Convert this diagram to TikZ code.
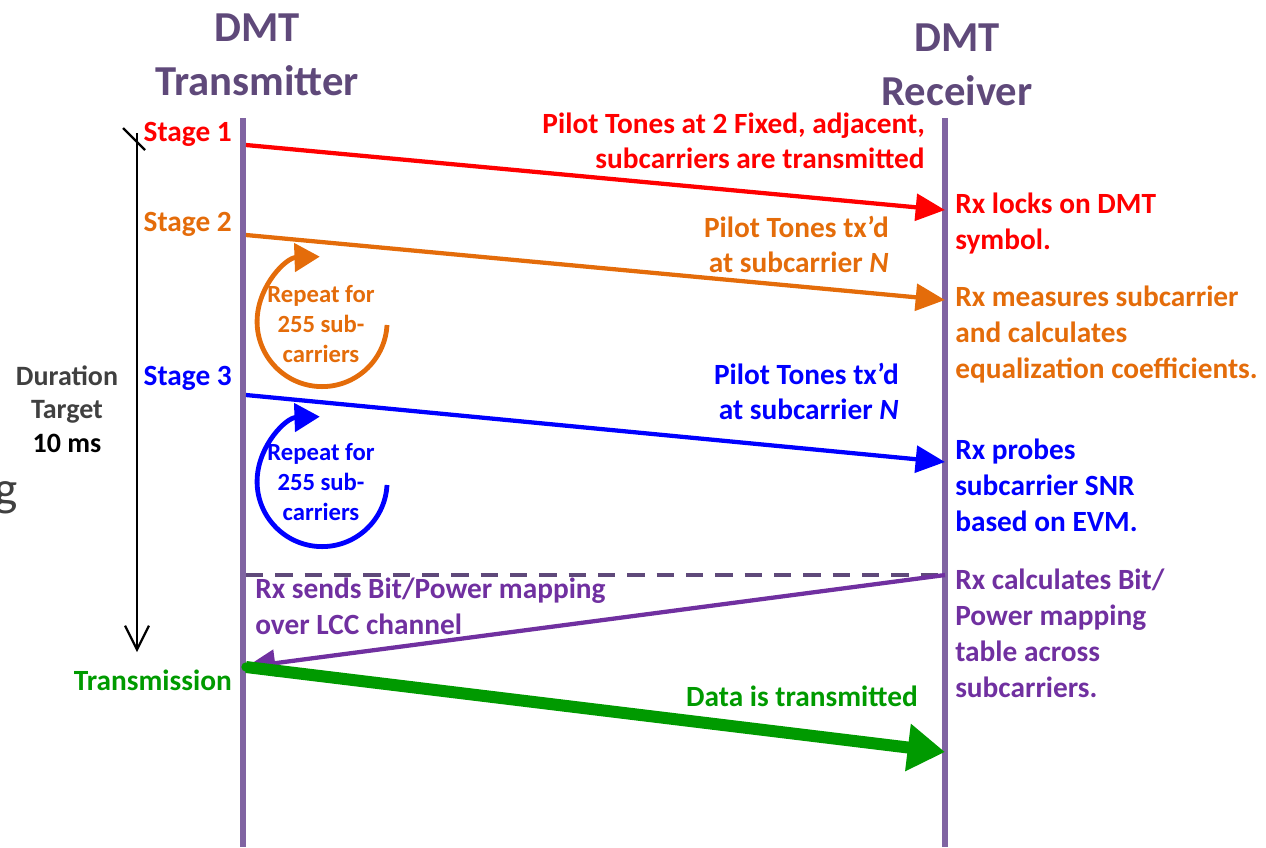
\documentclass[tikz,border=0pt]{standalone}
\usepackage{fontspec}
\setmainfont{Carlito}
\usetikzlibrary{arrows.meta, positioning}
\definecolor{lifeline}{HTML}{8064A2}
\definecolor{titlepurple}{HTML}{5F497A}
\definecolor{stageorange}{HTML}{E46C0A}
\definecolor{stageblue}{HTML}{0000FF}
\definecolor{stagepurple}{HTML}{7030A0}
\definecolor{stagegreen}{HTML}{009A00}
\definecolor{darkgray}{HTML}{404040}

\begin{document}
\begin{tikzpicture}[
        x=0.75pt, y=-0.75pt,
        font=\bfseries,
        title/.style={align=center, anchor=base, text=titlepurple, inner sep=0pt, font=\bfseries\fontsize{32}{40}\selectfont},
        stage/.style={anchor=base east, inner sep=0pt, font=\bfseries\fontsize{22}{27}\selectfont},
        note/.style={align=left, anchor=base west, inner sep=0pt, font=\bfseries\fontsize{22}{27}\selectfont},
        rnote/.style={align=right, anchor=base east, inner sep=0pt, font=\bfseries\fontsize{22}{26}\selectfont},
        repeat/.style={align=center, anchor=base, inner sep=0pt, font=\bfseries\fontsize{18.5}{22.5}\selectfont},
        lifeline/.style={draw=lifeline, line width=4.5pt},
        msg/.style={-{Triangle[length=22pt, width=20pt]}, line width=3.2pt},
        loop/.style={-{Triangle[length=19pt, width=21pt]}, line width=3.6pt}
        ]

        \useasboundingbox (0,0) rectangle (1266,847);

        % Titles (anchored at the last line)
        \node (txtitle) [title] at (257,95) {DMT\\Transmitter};
        \node (rxtitle) [title] at (957,105) {DMT\\Receiver};

        % Lifelines
        \coordinate (txtop) at (243,118);
        \coordinate (txbot) at (243,847);
        \coordinate (rxtop) at (945,118);
        \coordinate (rxbot) at (945,847);
        \draw [lifeline] (txtop) -- (txbot);
        \draw [lifeline] (rxtop) -- (rxbot);

        % Points on the lifelines
        \coordinate (tx1) at (246,145);
        \coordinate (rx1) at (945,210);
        \coordinate (tx2) at (246,235);
        \coordinate (rx2) at (945,300);
        \coordinate (tx3) at (246,395);
        \coordinate (rx3) at (945,462);
        \coordinate (tx4) at (246,575);
        \coordinate (rx4) at (945,575);
        \coordinate (tx5) at (246,667);
        \coordinate (rx5) at (945,752);

        % Duration
        \coordinate (durtop) at (137,133);
        \coordinate (durbot) at (137,652);
        \coordinate (ticka) at (123,128);
        \coordinate (tickb) at (145,150);
        \draw [line width=1.6pt, -{Straight Barb[length=18pt, width=18pt]}] (durtop) -- (durbot);
        \draw [line width=1.6pt] (ticka) -- (tickb);
        \node (duration) [align=center, anchor=base, inner sep=0pt, text=darkgray, font=\bfseries\fontsize{21}{25}\selectfont] at (67,452) {Duration\\Target\\\textcolor{black}{10 ms}};
        \node (cut) [anchor=base east, inner sep=0pt, text=darkgray, font=\fontsize{37}{40}\selectfont] at (18,505) {g};

        % Stage 1
        \node (stage1) [stage, text=red] at (232,141) {Stage 1};
        \node (pilot1) [rnote, text=red] at (925,168) {Pilot Tones at 2 Fixed, adjacent,\\subcarriers are transmitted};
        \node (lock) [note, text=red] at (955,249) {Rx locks on DMT\\symbol.};
        \draw [msg, red] (tx1) -- (rx1);

        % Stage 2
        \node (stage2) [stage, text=stageorange] at (232,231) {Stage 2};
        \node (pilot2) [rnote, text=stageorange] at (889,272) {Pilot Tones tx’d\\at subcarrier \textit{N}};
        \node (measure) [note, text=stageorange] at (955,378) {Rx measures subcarrier\\and calculates\\equalization coefficients.};
        \draw [msg, stageorange] (tx2) -- (rx2);
        \node (repeat2) [repeat, text=stageorange] at (321,362) {Repeat for\\255 sub-\\carriers};
        \draw [loop, stageorange] (387,325) arc[start angle=-3, end angle=-268, radius=48.75pt];

        % Stage 3
        \node (stage3) [stage, text=stageblue] at (232,385) {Stage 3};
        \node (pilot3) [rnote, text=stageblue] at (899,419) {Pilot Tones tx’d\\at subcarrier \textit{N}};
        \node (probe) [note, text=stageblue] at (955,531) {Rx probes\\subcarrier SNR\\based on EVM.};
        \draw [msg, stageblue] (tx3) -- (rx3);
        \node (repeat3) [repeat, text=stageblue] at (321,520) {Repeat for\\255 sub-\\carriers};
        \draw [loop, stageblue] (387,485) arc[start angle=-3, end angle=-268, radius=48.75pt];

        % Bit/Power mapping
        \draw [titlepurple, line width=2.4pt, dash pattern=on 13pt off 9pt] (tx4) -- (rx4);
        \node (sends) [note, text=stagepurple] at (255,634) {Rx sends Bit/Power mapping\\over LCC channel};
        \node (calc) [note, text=stagepurple] at (955,697) {Rx calculates Bit/\\Power mapping\\table across\\subcarriers.};
        \draw [msg, stagepurple] (rx4) -- (tx5);

        % Transmission
        \node (trans) [stage, text=stagegreen] at (232,690) {Transmission};
        \node (data) [rnote, text=stagegreen] at (918,706) {Data is transmitted};
        \draw [line width=9pt, stagegreen, -{Triangle[length=28pt, width=34pt]}] (tx5) -- (rx5);
        \fill [stagegreen] (tx5) circle (3.5pt);

\end{tikzpicture}
\end{document}
